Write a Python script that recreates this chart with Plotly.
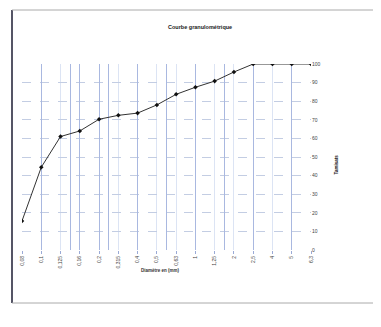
import plotly.graph_objects as go

# Sieve sizes (mm) and cumulative passing (%)
tamis = ["0,08", "0,1", "0,125", "0,16", "0,2", "0,315", "0,4", "0,5",
         "0,63", "1", "1,25", "2", "2,5", "4", "5", "6,3"]
passants = [15.6, 44.5, 61, 64, 70.3, 72.4, 73.6, 78,
            83.7, 87.5, 90.8, 95.7, 100, 100, 100, 100]
y_ticks = [0, 10, 20, 30, 40, 50, 60, 70, 80, 90, 100]

idx = list(range(len(tamis)))

# page body adds an 8px offset, so work in window coords minus 8
OFF = 8
W, H = 381 - OFF, 327 - OFF
L, R, T, B = 22 - OFF, 381 - 311, 64 - OFF, 327 - 250
pw, ph = W - L - R, H - T - B


def px(x):
    return (x - OFF - L) / pw


def py(y):
    return (H - B - (y - OFF)) / ph


fig = go.Figure()

fig.add_trace(go.Scatter(
    x=idx, y=passants,
    mode="lines+markers",
    line=dict(color="#333333", width=1),
    marker=dict(symbol="diamond", size=3.5, color="#111111"),
    showlegend=False,
))

# invisible trace to activate secondary x axis (darker vertical lines)
fig.add_trace(go.Scatter(x=[0, 15], y=[0, 0], xaxis="x2", mode="lines",
                         line=dict(width=0), showlegend=False, hoverinfo="skip"))

fig.update_layout(
    width=W, height=H,
    margin=dict(l=L, r=R, t=T, b=B, autoexpand=False),
    paper_bgcolor="white",
    plot_bgcolor="white",
    font=dict(family="Liberation Sans, Arial", size=5, color="#333333"),
    xaxis=dict(
        range=[0, 15],
        tickmode="array", tickvals=idx, ticktext=tamis,
        tickangle=-90, automargin=False,
        showgrid=True, gridcolor="#dce4f4", gridwidth=1,
        showline=False, zeroline=False,
        ticks="outside", ticklen=3, tickcolor="#9aaad6",
        tickfont=dict(size=5, color="#444444"),
    ),
    xaxis2=dict(
        overlaying="x", range=[0, 15], automargin=False,
        tickmode="array",
        tickvals=[1, 2.5, 3, 4, 4.5, 6, 7.5, 9, 10.5, 12, 14],
        showticklabels=False, ticks="",
        showgrid=True, gridcolor="#a9b8e0", gridwidth=1,
        zeroline=False, showline=False,
    ),
    yaxis=dict(
        range=[0, 100], side="right", automargin=False,
        tickmode="array", tickvals=y_ticks,
        showgrid=True, gridcolor="#c3cde3", griddash="dash", gridwidth=1,
        zeroline=False, showline=False,
        tickfont=dict(size=5, color="#444444"),
    ),
    annotations=[
        dict(text="<b>Courbe granulométrique</b>", x=px(200), y=py(22),
             xref="paper", yref="paper", showarrow=False,
             font=dict(size=5.5, color="#222222")),
        dict(text="<b>Diamètre en (mm)</b>", x=px(160), y=py(275),
             xref="paper", yref="paper", showarrow=False,
             font=dict(size=4.5, color="#333333")),
        dict(text="<b>Tamisats</b>", x=px(340), y=py(165),
             xref="paper", yref="paper", showarrow=False, textangle=-90,
             font=dict(size=4.5, color="#222222")),
    ],
    shapes=[
        dict(type="line", xref="paper", yref="paper",
             x0=px(12), x1=px(12), y0=py(303), y1=py(10),
             line=dict(color="#555566", width=2)),
        dict(type="line", xref="paper", yref="paper",
             x0=px(12), x1=px(381), y0=py(10), y1=py(10),
             line=dict(color="#aaaaaa", width=1)),
        dict(type="line", xref="paper", yref="paper",
             x0=px(12), x1=px(381), y0=py(303), y1=py(303),
             line=dict(color="#aaaaaa", width=1)),
    ],
)

fig.write_html("out.html")
